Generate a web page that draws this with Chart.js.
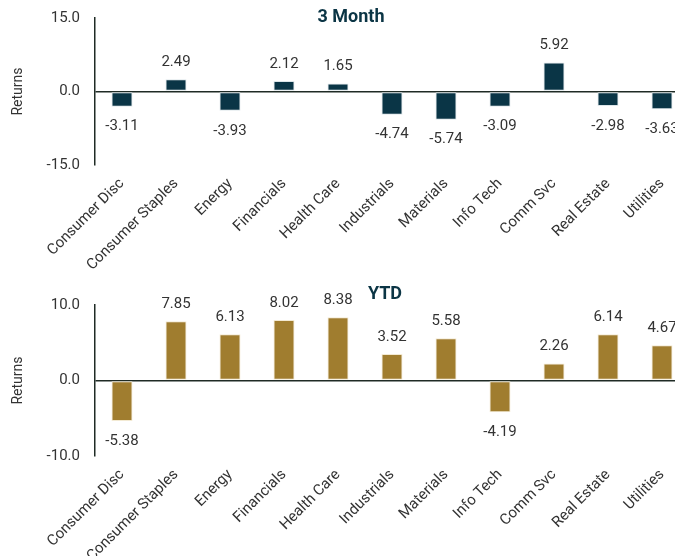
<!DOCTYPE html>
<html>
<head>
<meta charset="utf-8">
<script src="https://cdn.jsdelivr.net/npm/chart.js@4.4.1/dist/chart.umd.min.js"></script>
<style>
  body { margin: 0; background: #fff; overflow: hidden; width: 675px; height: 556px; }
  .box { position: relative; width: 692px; }
</style>
</head>
<body>
<div class="box" style="height:280px"><canvas id="chartTop"></canvas></div>
<div class="box" style="height:276px"><canvas id="chartBottom"></canvas></div>
<script>
// sectores e retornos
const sectors = ["Consumer Disc", "Consumer Staples", "Energy", "Financials", "Health Care",
  "Industrials", "Materials", "Info Tech", "Comm Svc", "Real Estate", "Utilities"];
const threeMonth = [-3.11, 2.49, -3.93, 2.12, 1.65, -4.74, -5.74, -3.09, 5.92, -2.98, -3.63];
const ytd = [-5.38, 7.85, 6.13, 8.02, 8.38, 3.52, 5.58, -4.19, 2.26, 6.14, 4.67];
const ticksTop = [-15, 0, 15];
const ticksBottom = [-10, 0, 10];

const FONT = "Roboto, 'Liberation Sans', sans-serif";
const TEXT = "#333333";
const AXIS = "#1f2b25";

// numeros em cima/baixo das barras
const barLabels = {
  id: "barLabels",
  afterDatasetsDraw(chart) {
    const ctx = chart.ctx;
    const meta = chart.getDatasetMeta(0);
    const vals = chart.data.datasets[0].data;
    ctx.save();
    ctx.font = "15px " + FONT;
    ctx.fillStyle = TEXT;
    ctx.textAlign = "center";
    ctx.textBaseline = "middle";
    meta.data.forEach(function (bar, i) {
      const v = vals[i];
      const y = v >= 0 ? bar.y - 17 : bar.y + 20;
      ctx.fillText(v.toFixed(2), bar.x, y);
    });
    ctx.restore();
  }
};

// titulo dentro da area do grafico
const panelTitle = {
  id: "panelTitle",
  afterDraw(chart, args, opts) {
    const ctx = chart.ctx;
    ctx.save();
    ctx.font = "bold 18px " + FONT;
    ctx.fillStyle = "#0b3545";
    ctx.textAlign = "center";
    ctx.textBaseline = "middle";
    ctx.fillText(opts.text, opts.x, opts.y);
    ctx.restore();
  }
};

function makeConfig(values, ticks, color, border, title, padTop, xHeight) {
  return {
    type: "bar",
    data: {
      labels: sectors,
      datasets: [{
        data: values,
        backgroundColor: color,
        borderColor: border,
        borderWidth: 1,
        borderSkipped: false,
        categoryPercentage: 1,
        barPercentage: 0.39
      }]
    },
    options: {
      responsive: true,
      maintainAspectRatio: false,
      animation: false,
      layout: { padding: { top: padTop, right: 3, left: 0, bottom: 0 } },
      plugins: {
        legend: { display: false },
        tooltip: { enabled: false },
        panelTitle: title
      },
      scales: {
        x: {
          grid: { display: false, drawTicks: false },
          border: { display: false },
          afterFit: function (s) { s.height = xHeight; },
          ticks: {
            autoSkip: false,
            minRotation: 45,
            maxRotation: 45,
            padding: 10,
            color: TEXT,
            font: { family: FONT, size: 15 }
          }
        },
        y: {
          min: ticks[0],
          max: ticks[ticks.length - 1],
          afterFit: function (s) { s.width = 95; },
          afterBuildTicks: function (s) { s.ticks = ticks.map(function (v) { return { value: v }; }); },
          border: { display: true, color: AXIS, width: 1.5 },
          grid: {
            drawTicks: true,
            tickLength: 12,
            tickColor: "rgba(0,0,0,0)",
            lineWidth: 1.5,
            color: function (c) { return c.tick && c.tick.value === 0 ? AXIS : "rgba(0,0,0,0)"; }
          },
          title: {
            display: true,
            text: "Returns",
            color: TEXT,
            font: { family: FONT, size: 14 },
            padding: { top: 10, bottom: 0 }
          },
          ticks: {
            padding: 3,
            color: TEXT,
            font: { family: FONT, size: 15 },
            callback: function (v) { return Number(v).toFixed(1); }
          }
        }
      }
    },
    plugins: [barLabels, panelTitle]
  };
}

new Chart(document.getElementById("chartTop"),
  makeConfig(threeMonth, ticksTop, "#0a3546", "#dde6ea", { text: "3 Month", x: 351, y: 17 }, 18, 115));
new Chart(document.getElementById("chartBottom"),
  makeConfig(ytd, ticksBottom, "#a07d2f", "#f3ead3", { text: "YTD", x: 385, y: 14 }, 25, 100));
</script>
</body>
</html>
